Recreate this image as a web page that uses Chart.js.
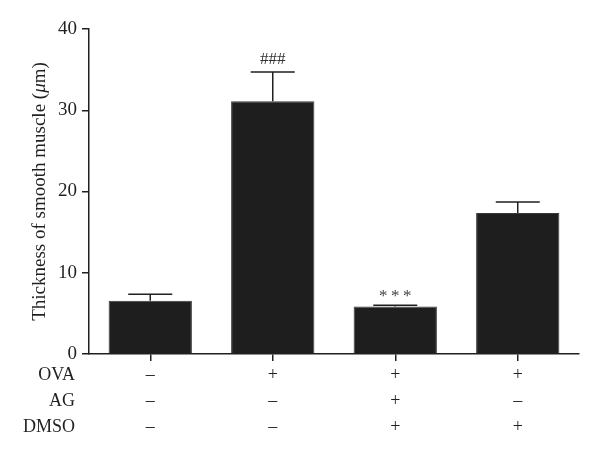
<!DOCTYPE html>
<html>
<head>
<meta charset="utf-8">
<script src="https://cdn.jsdelivr.net/npm/chart.js@4"></script>
<style>
  html, body { margin: 0; padding: 0; background: #ffffff; }
  #wrap { width: 600px; height: 454px; position: relative; }
</style>
</head>
<body>
<div id="wrap"><canvas id="c"></canvas></div>
<script>
// ---- data ----
const categories = ['g1', 'g2', 'g3', 'g4'];
const thickness = [6.55, 31.1, 5.85, 17.35];
const errorTop = [7.35, 34.7, 6.0, 18.7];
const rowNames = ['OVA', 'AG', 'DMSO'];
const OVA = ['\u2013', '+', '+', '+'];
const AG = ['\u2013', '\u2013', '+', '\u2013'];
const DMSO = ['\u2013', '\u2013', '+', '+'];
const marks = ['', '###', '***', ''];
const yTicks = [0, 10, 20, 30, 40];

const INK = '#231f20';
const SERIF = '"Liberation Serif", "DejaVu Serif", serif';

const extras = {
  id: 'extras',
  afterDatasetsDraw(chart) {
    const ctx = chart.ctx;
    const xs = chart.scales.x, ys = chart.scales.y;
    ctx.save();
    // error bars (upper only)
    ctx.strokeStyle = INK;
    ctx.lineWidth = 1.5;
    thickness.forEach((v, i) => {
      const x = xs.getPixelForValue(i);
      const yb = ys.getPixelForValue(v);
      const yt = ys.getPixelForValue(errorTop[i]);
      ctx.beginPath();
      ctx.moveTo(x, yb);
      ctx.lineTo(x, yt);
      ctx.moveTo(x - 22, yt);
      ctx.lineTo(x + 22, yt);
      ctx.stroke();
    });
    // significance marks
    ctx.textAlign = 'center';
    marks.forEach((m, i) => {
      if (!m) return;
      const x = xs.getPixelForValue(i);
      const yt = ys.getPixelForValue(errorTop[i]);
      if (m === '###') {
        ctx.fillStyle = '#333';
        ctx.font = '17px ' + SERIF;
        ctx.textBaseline = 'middle';
        ctx.fillText(m, x, yt - 13);
      } else {
        ctx.fillStyle = '#444';
        ctx.font = '17px ' + SERIF;
        ctx.textBaseline = 'alphabetic';
        [-12, 0, 12].forEach(dx => ctx.fillText('*', x + dx, yt - 4.5));
      }
    });
    // row labels of the treatment table
    ctx.fillStyle = INK;
    ctx.font = '18px ' + SERIF;
    ctx.textAlign = 'right';
    ctx.textBaseline = 'middle';
    const base = chart.chartArea.bottom;
    rowNames.forEach((r, k) => {
      ctx.fillText(r, 75, base + 21 + k * 26);
    });
    // y axis title with italic mu
    const parts = [
      { t: 'Thickness of smooth muscle (', f: '19px ' + SERIF },
      { t: '\u03bc', f: 'italic 19px ' + SERIF },
      { t: 'm)', f: '19px ' + SERIF }
    ];
    let total = 0;
    parts.forEach(p => { ctx.font = p.f; p.w = ctx.measureText(p.t).width; total += p.w; });
    const cy = (chart.chartArea.top + chart.chartArea.bottom) / 2;
    ctx.translate(40, cy);
    ctx.rotate(-Math.PI / 2);
    ctx.textAlign = 'left';
    let xx = -total / 2;
    parts.forEach(p => { ctx.font = p.f; ctx.fillText(p.t, xx, 0); xx += p.w; });
    ctx.restore();
  }
};

new Chart(document.getElementById('c'), {
  type: 'bar',
  data: {
    labels: categories.map((c, i) => [OVA[i], AG[i], DMSO[i]]),
    datasets: [{
      data: thickness,
      backgroundColor: '#1e1e1e',
      borderColor: '#3a3a3a',
      borderWidth: 1,
      barPercentage: 0.68,
      categoryPercentage: 1.0
    }]
  },
  options: {
    responsive: true,
    maintainAspectRatio: false,
    animation: false,
    layout: { padding: { left: 0, right: 21, top: 29, bottom: 0 } },
    plugins: { legend: { display: false }, tooltip: { enabled: false } },
    scales: {
      x: {
        offset: true,
        afterFit(s) { s.height = 100; },
        grid: { offset: false, drawOnChartArea: false, drawTicks: true, tickLength: 7, color: INK, lineWidth: 1.5 },
        border: { display: true, color: INK, width: 1.5 },
        ticks: {
          color: INK,
          padding: 1,
          maxRotation: 0,
          autoSkip: false,
          font: { family: SERIF, size: 18, lineHeight: 1.444 }
        }
      },
      y: {
        min: 0,
        max: 40,
        afterFit(s) { s.width = 89; },
        afterBuildTicks(s) { s.ticks = yTicks.map(v => ({ value: v })); },
        grid: { drawOnChartArea: false, drawTicks: true, tickLength: 7, color: INK, lineWidth: 1.5 },
        border: { display: true, color: INK, width: 1.5 },
        ticks: {
          color: INK,
          padding: 5,
          font: { family: SERIF, size: 19 }
        }
      }
    }
  },
  plugins: [extras]
});
</script>
</body>
</html>
